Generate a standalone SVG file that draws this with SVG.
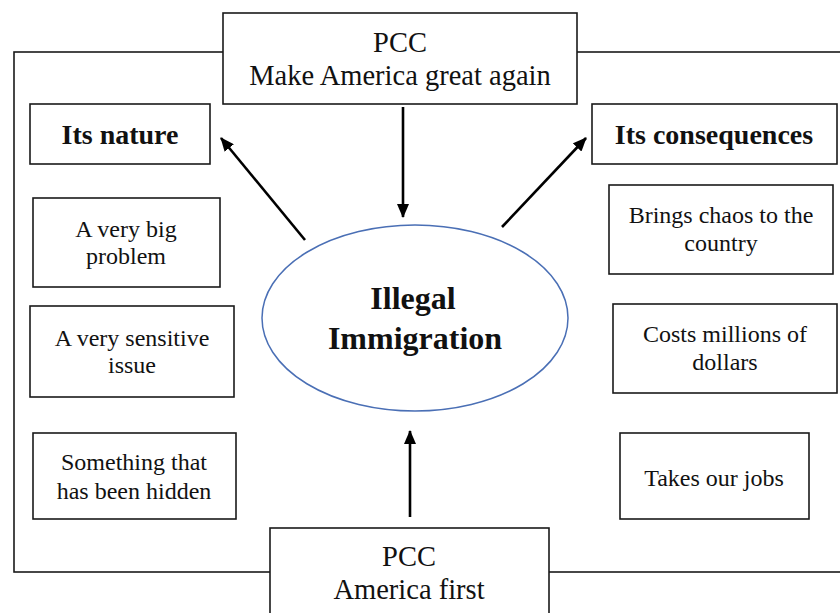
<svg xmlns="http://www.w3.org/2000/svg" width="840" height="613" viewBox="0 0 840 613">
<style>
.box{fill:#fff;stroke:#1a1a1a;stroke-width:1.6}
.t{font-family:"Liberation Serif","Times New Roman",serif;fill:#111;text-anchor:middle}
.s{font-size:24px}
.b{font-size:28px;font-weight:bold}
.p{font-size:28.5px}
.c{font-size:32px;font-weight:bold}
.arr{stroke:#000;stroke-width:2.6;fill:none;marker-end:url(#ah)}
</style>
<defs>
<marker id="ah" markerUnits="userSpaceOnUse" markerWidth="14" markerHeight="12" refX="13" refY="6" orient="auto">
<path d="M0,0 L14,6 L0,12 Z" fill="#000"/>
</marker>
</defs>
<rect width="840" height="613" fill="#fff"/>
<g id="frame"><rect x="14" y="52" width="840" height="520" fill="none" stroke="#1a1a1a" stroke-width="1.6"/></g>
<g id="top"><rect class="box" x="223" y="13" width="354" height="91"/>
<text class="t p" x="400" y="52">PCC</text><text class="t p" x="400" y="85">Make America great again</text></g>
<g id="bottom"><rect class="box" x="270" y="528" width="279" height="100"/>
<text class="t p" x="409" y="566">PCC</text><text class="t p" x="409" y="599">America first</text></g>
<g id="nature"><rect class="box" x="30" y="104" width="180" height="60"/>
<text class="t b" x="120" y="144">Its nature</text></g>
<g id="consequences"><rect class="box" x="592" y="104" width="245" height="60"/>
<text class="t b" x="714" y="144">Its consequences</text></g>
<g id="n1"><rect class="box" x="33" y="198" width="187" height="89"/>
<text class="t s" x="126" y="237">A very big</text><text class="t s" x="126" y="264">problem</text></g>
<g id="n2"><rect class="box" x="30" y="306" width="204" height="91"/>
<text class="t s" x="132" y="346">A very sensitive</text><text class="t s" x="132" y="373">issue</text></g>
<g id="n3"><rect class="box" x="33" y="433" width="203" height="86"/>
<text class="t s" x="134" y="470">Something that</text><text class="t s" x="134" y="499">has been hidden</text></g>
<g id="c1"><rect class="box" x="609" y="185" width="224" height="89"/>
<text class="t s" x="721" y="223">Brings chaos to the</text><text class="t s" x="721" y="251">country</text></g>
<g id="c2"><rect class="box" x="613" y="304" width="224" height="89"/>
<text class="t s" x="725" y="342">Costs millions of</text><text class="t s" x="725" y="370">dollars</text></g>
<g id="c3"><rect class="box" x="620" y="433" width="189" height="86"/>
<text class="t s" x="714" y="486">Takes our jobs</text></g>
<g id="center"><ellipse cx="415" cy="318" rx="153" ry="93" fill="#fff" stroke="#4a6fb5" stroke-width="1.5"/>
<text class="t c" x="413" y="309">Illegal</text><text class="t c" x="415" y="349">Immigration</text></g>
<g id="connectors">
<line class="arr" x1="403" y1="107" x2="403" y2="217"/>
<line class="arr" x1="410" y1="517" x2="410" y2="431"/>
<line class="arr" x1="305" y1="240" x2="221" y2="138"/>
<line class="arr" x1="502" y1="227" x2="586" y2="138"/>
</g>
</svg>
